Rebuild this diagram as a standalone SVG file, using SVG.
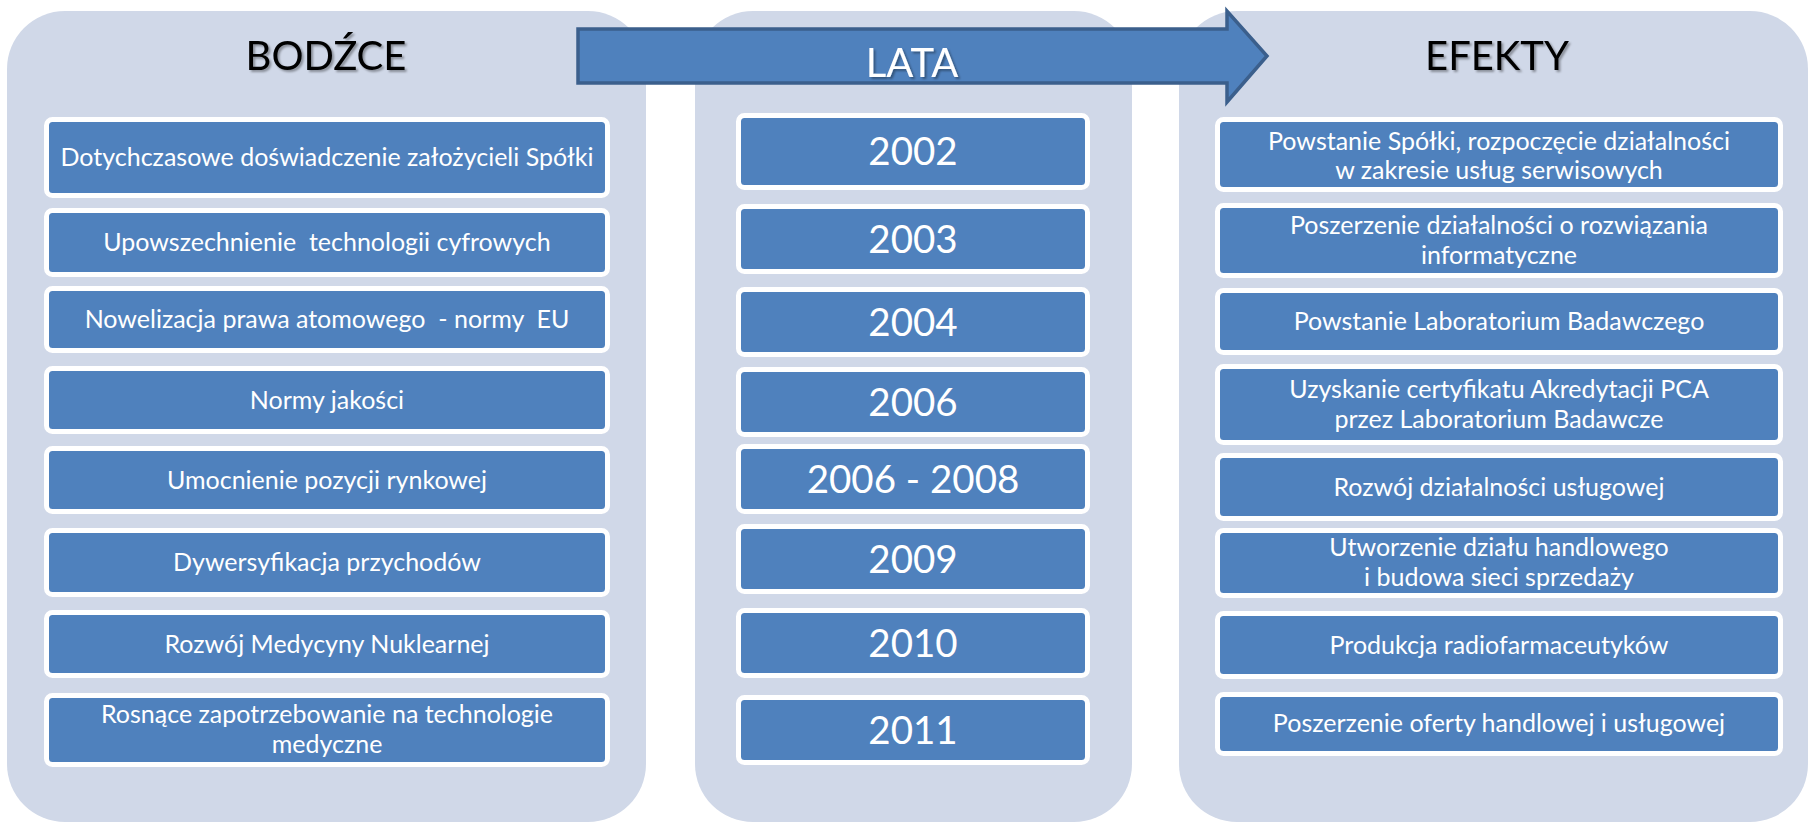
<svg xmlns="http://www.w3.org/2000/svg" width="1810" height="822" viewBox="0 0 1810 822">
<style>
.panel{fill:#D0D8E8;}
.box{fill:#4F81BD;stroke:#FFFFFF;stroke-width:5;}
.t{font-family:Lato,"Liberation Sans",sans-serif;fill:#FFFFFF;text-anchor:middle;white-space:pre;font-size:25px;}
.yr{font-family:Lato,"Liberation Sans",sans-serif;fill:#FFFFFF;text-anchor:middle;font-size:38.5px;}
.hd{font-family:Lato,"Liberation Sans",sans-serif;fill:#000000;text-anchor:middle;font-size:40px;}
.arrow{fill:#4F81BD;stroke:#3B5F8C;stroke-width:3.5;stroke-linejoin:miter;}
</style>
<defs>
<filter id="sh" x="-20%" y="-20%" width="140%" height="160%">
<feDropShadow dx="2" dy="2" stdDeviation="1.2" flood-color="#000000" flood-opacity="0.35"/>
</filter>
</defs>
<rect width="1810" height="822" fill="#FFFFFF"/>

<g id="panel-bodzce">
<rect class="panel" x="7" y="11" width="639" height="811" rx="58"/>
<text class="hd" x="326" y="70" filter="url(#sh)">BODŹCE</text>
</g>
<g id="panel-lata">
<rect class="panel" x="695" y="11" width="437" height="811" rx="58"/>
</g>
<g id="panel-efekty">
<rect class="panel" x="1179" y="11" width="629" height="811" rx="58"/>
<text class="hd" x="1497" y="70" filter="url(#sh)">EFEKTY</text>
</g>

<g id="connectors">
<polygon id="arrow-lata" class="arrow" points="578,29 1227,29 1227,11 1267,56 1227,102 1227,83 578,83"/>
<text class="hd" x="912" y="77" style="fill:#FFFFFF" filter="url(#sh)">LATA</text>
</g>

<g id="b1"><rect class="box" x="46.5" y="119.5" width="561" height="76" rx="6"/><text class="t" x="327" y="166">Dotychczasowe doświadczenie założycieli Spółki</text></g>
<g id="b2"><rect class="box" x="46.5" y="210.5" width="561" height="64" rx="6"/><text class="t" x="327" y="251">Upowszechnienie  technologii cyfrowych</text></g>
<g id="b3"><rect class="box" x="46.5" y="288.5" width="561" height="62" rx="6"/><text class="t" x="327" y="328">Nowelizacja prawa atomowego  - normy  EU</text></g>
<g id="b4"><rect class="box" x="46.5" y="368.5" width="561" height="63" rx="6"/><text class="t" x="327" y="409">Normy jakości</text></g>
<g id="b5"><rect class="box" x="46.5" y="448.5" width="561" height="63" rx="6"/><text class="t" x="327" y="489">Umocnienie pozycji rynkowej</text></g>
<g id="b6"><rect class="box" x="46.5" y="530.5" width="561" height="64" rx="6"/><text class="t" x="327" y="571">Dywersyfikacja przychodów</text></g>
<g id="b7"><rect class="box" x="46.5" y="612.5" width="561" height="63" rx="6"/><text class="t" x="327" y="653">Rozwój Medycyny Nuklearnej</text></g>
<g id="b8"><rect class="box" x="46.5" y="695.5" width="561" height="69" rx="6"/><text class="t" x="327" y="723">Rosnące zapotrzebowanie na technologie</text><text class="t" x="327" y="753">medyczne</text></g>

<g id="y2002"><rect class="box" x="738.5" y="115.5" width="349" height="72" rx="6"/><text class="yr" x="913" y="165">2002</text></g>
<g id="y2003"><rect class="box" x="738.5" y="206.5" width="349" height="65" rx="6"/><text class="yr" x="913" y="253">2003</text></g>
<g id="y2004"><rect class="box" x="738.5" y="289.5" width="349" height="65" rx="6"/><text class="yr" x="913" y="336">2004</text></g>
<g id="y2006"><rect class="box" x="738.5" y="369.5" width="349" height="65" rx="6"/><text class="yr" x="913" y="416">2006</text></g>
<g id="y2006-2008"><rect class="box" x="738.5" y="446.5" width="349" height="65" rx="6"/><text class="yr" x="913" y="493">2006 - 2008</text></g>
<g id="y2009"><rect class="box" x="738.5" y="526.5" width="349" height="65" rx="6"/><text class="yr" x="913" y="573">2009</text></g>
<g id="y2010"><rect class="box" x="738.5" y="610.5" width="349" height="65" rx="6"/><text class="yr" x="913" y="657">2010</text></g>
<g id="y2011"><rect class="box" x="738.5" y="697.5" width="349" height="65" rx="6"/><text class="yr" x="913" y="744">2011</text></g>

<g id="e1"><rect class="box" x="1217.5" y="119.5" width="563" height="70" rx="6"/><text class="t" x="1499" y="150">Powstanie Spółki, rozpoczęcie działalności</text><text class="t" x="1499" y="179">w zakresie usług serwisowych</text></g>
<g id="e2"><rect class="box" x="1217.5" y="205.5" width="563" height="70" rx="6"/><text class="t" x="1499" y="234">Poszerzenie działalności o rozwiązania</text><text class="t" x="1499" y="264">informatyczne</text></g>
<g id="e3"><rect class="box" x="1217.5" y="290.5" width="563" height="62" rx="6"/><text class="t" x="1499" y="330">Powstanie Laboratorium Badawczego</text></g>
<g id="e4"><rect class="box" x="1217.5" y="366.5" width="563" height="76" rx="6"/><text class="t" x="1499" y="398">Uzyskanie certyfikatu Akredytacji PCA</text><text class="t" x="1499" y="428">przez Laboratorium Badawcze</text></g>
<g id="e5"><rect class="box" x="1217.5" y="455.5" width="563" height="63" rx="6"/><text class="t" x="1499" y="496">Rozwój działalności usługowej</text></g>
<g id="e6"><rect class="box" x="1217.5" y="530.5" width="563" height="65" rx="6"/><text class="t" x="1499" y="556">Utworzenie działu handlowego</text><text class="t" x="1499" y="586">i budowa sieci sprzedaży</text></g>
<g id="e7"><rect class="box" x="1217.5" y="613.5" width="563" height="63" rx="6"/><text class="t" x="1499" y="654">Produkcja radiofarmaceutyków</text></g>
<g id="e8"><rect class="box" x="1217.5" y="694.5" width="563" height="59" rx="6"/><text class="t" x="1499" y="732">Poszerzenie oferty handlowej i usługowej</text></g>
</svg>
